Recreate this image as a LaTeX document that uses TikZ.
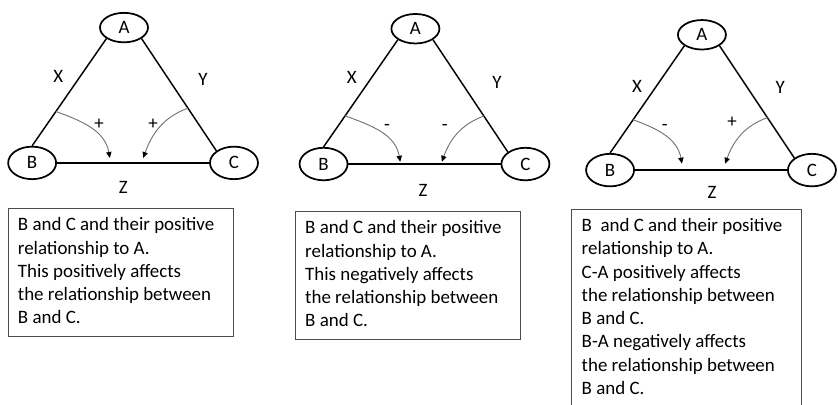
\documentclass[tikz,border=0pt]{standalone}
\usepackage{fontspec}
\setsansfont{Carlito}
\usepackage{tikz}
\usetikzlibrary{
  shapes.geometric,
  positioning,
  arrows.meta,
  calc
}

\begin{document}
\begin{tikzpicture}[
      font=\sffamily\fontsize{14.25}{17.5}\selectfont,
      vertex/.style={
        ellipse,
        draw=black,
        line width=1.3pt,
        minimum width=1.27cm,
        minimum height=0.86cm,
        inner sep=0pt
      },
      apex/.style={
        vertex,
        minimum height=0.78cm
      },
      side/.style={
        line width=1.1pt
      },
      influence/.style={
        -{Triangle[length=4.5pt,width=4pt,color=black]},
        line width=0.7pt,
        draw=black!55
      },
      edgelabel/.style={
        inner sep=1pt
      },
      sign/.style={
        inner sep=1pt
      },
      note/.style={
        rectangle,
        draw=black!70,
        line width=0.7pt,
        text width=5.43cm,
        align=flush left,
        inner xsep=0.26cm,
        inner ysep=0.25cm,
        anchor=north,
        execute at begin node={\hyphenpenalty=10000},
        execute at end node={\rule[-0.09cm]{0pt}{0.09cm}}
      }
    ]

    \useasboundingbox (0,0) rectangle (22.17,-10.69);

    % Coordinates
    \coordinate (col1) at (3.52,-4.31);
    \coordinate (col2) at (11.23,-4.34);
    \coordinate (col3) at (18.81,-4.50);

    % Panel 1: both links positive
    \node[apex] (A1) at ($(col1)+(-0.24,3.58)$) {A};
    \node[vertex] (B1) at ($(col1)+(-2.67,0)$) {B};
    \node[vertex] (C1) at ($(col1)+(2.67,0)$) {C};

    \draw[side] (A1.south west) -- (B1.north);
    \draw[side] (A1.south east) -- (C1.north west);
    \draw[side] (B1) -- (C1);

    \node[edgelabel] (x1) at ($(col1)+(-1.98,2.28)$) {X};
    \node[edgelabel] (y1) at ($(col1)+(1.85,2.20)$) {Y};
    \node[edgelabel] (z1) at ($(col1)+(-0.26,-0.66)$) {Z};

    \coordinate (s1) at ($(A1.south west)!0.68!(B1.north)$);
    \coordinate (t1) at ($(A1.south east)!0.62!(C1.north west)$);
    \coordinate (e1) at ($(B1.center)!0.385!(C1.center)+(0,0.13)$);
    \coordinate (f1) at ($(B1.center)!0.55!(C1.center)+(0,0.13)$);
    \draw[influence] (s1) to[out=-20,in=100] (e1);
    \draw[influence] (t1) to[out=200,in=70] (f1);
    \node[sign] (p1) at ($(col1)+(-0.90,1.03)$) {+};
    \node[sign] (q1) at ($(col1)+(0.53,1.03)$) {+};

    \node[note] (box1) at ($(col1)+(-0.33,-1.19)$)
      {B and C and their positive\\
       relationship to A.\\
       This positively affects\\
       the relationship between\\
       B and C.};

    % Panel 2: both links negative
    \node[apex] (A2) at ($(col2)+(-0.24,3.58)$) {A};
    \node[vertex] (B2) at ($(col2)+(-2.67,0)$) {B};
    \node[vertex] (C2) at ($(col2)+(2.67,0)$) {C};

    \draw[side] (A2.south west) -- (B2.north);
    \draw[side] (A2.south east) -- (C2.north west);
    \draw[side] (B2) -- (C2);

    \node[edgelabel] (x2) at ($(col2)+(-1.92,2.28)$) {X};
    \node[edgelabel] (y2) at ($(col2)+(1.92,2.17)$) {Y};
    \node[edgelabel] (z2) at ($(col2)+(-0.04,-0.69)$) {Z};

    \coordinate (s2) at ($(A2.south west)!0.71!(B2.north)$);
    \coordinate (t2) at ($(A2.south east)!0.68!(C2.north west)$);
    \coordinate (e2) at ($(B2.center)!0.38!(C2.center)+(0,0.06)$);
    \coordinate (f2) at ($(B2.center)!0.586!(C2.center)+(0,0.06)$);
    \draw[influence] (s2) to[out=-20,in=100] (e2);
    \draw[influence] (t2) to[out=200,in=70] (f2);
    \node[sign] (p2) at ($(col2)+(-0.99,0.98)$) {-};
    \node[sign] (q2) at ($(col2)+(0.54,0.98)$) {-};

    \node[note] (box2) at ($(col2)+(-0.44,-1.24)$)
      {B and C and their positive\\
       relationship to A.\\
       This negatively affects\\
       the relationship between\\
       B and C.};

    % Panel 3: mixed links
    \node[apex] (A3) at ($(col3)+(-0.24,3.58)$) {A};
    \node[vertex] (B3) at ($(col3)+(-2.67,0)$) {B};
    \node[vertex] (C3) at ($(col3)+(2.67,0)$) {C};

    \draw[side] (A3.south west) -- (B3.north);
    \draw[side] (A3.south east) -- (C3.north west);
    \draw[side] (B3) -- (C3);

    \node[edgelabel] (x3) at ($(col3)+(-1.96,2.21)$) {X};
    \node[edgelabel] (y3) at ($(col3)+(1.83,2.18)$) {Y};
    \node[edgelabel] (z3) at ($(col3)+(0.03,-0.60)$) {Z};

    \coordinate (s3) at ($(A3.south west)!0.69!(B3.north)$);
    \coordinate (t3) at ($(A3.south east)!0.64!(C3.north west)$);
    \coordinate (e3) at ($(B3.center)!0.356!(C3.center)+(0,0.17)$);
    \coordinate (f3) at ($(B3.center)!0.57!(C3.center)+(0,0.17)$);
    \draw[influence] (s3) to[out=-20,in=100] (e3);
    \draw[influence] (t3) to[out=200,in=70] (f3);
    \node[sign] (p3) at ($(col3)+(-1.22,1.12)$) {-};
    \node[sign] (q3) at ($(col3)+(0.56,1.26)$) {+};

    \node[note, text width=5.54cm] (box3) at ($(col3)+(-0.65,-1.02)$)
      {B\ \ and C and their positive\\
       relationship to A.\\
       C-A positively affects\\
       the relationship between\\
       B and C.\\
       B-A negatively affects\\
       the relationship between\\
       B and C.};

    \end{tikzpicture}
\end{document}
